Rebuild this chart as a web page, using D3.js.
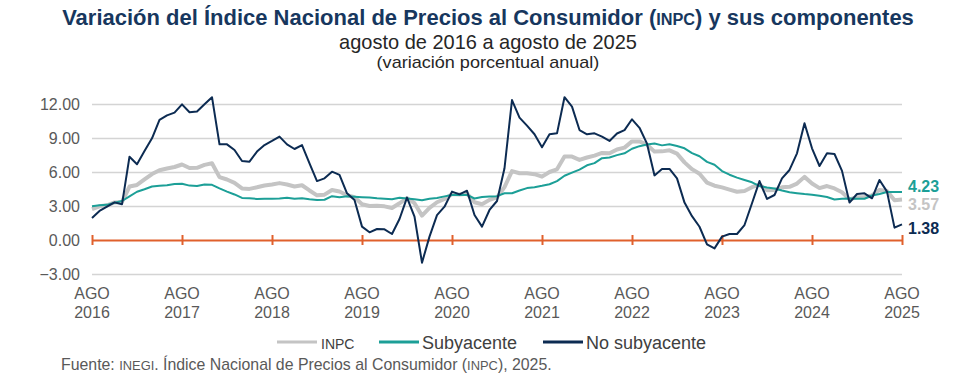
<!DOCTYPE html>
<html>
<head>
<meta charset="utf-8">
<script src="https://cdn.jsdelivr.net/npm/d3@7"></script>
<style>
  html, body { margin: 0; padding: 0; background: #ffffff; }
  svg { display: block; }
  text { font-family: "Liberation Sans", Arial, sans-serif; }
</style>
</head>
<body>
<svg id="chart" width="972" height="389"></svg>
<script>
// ---- Data (monthly, agosto 2016 .. agosto 2025) ----
const startYear = 2016;
const yearTicks = [2016, 2017, 2018, 2019, 2020, 2021, 2022, 2023, 2024, 2025];
const tickMonthLabel = "AGO";
const yTicks = [-3, 0, 3, 6, 9, 12];

const inpc = [
  2.73, 2.97, 3.06, 3.31, 3.36,
  4.72, 4.86, 5.35, 5.82, 6.16, 6.31, 6.44, 6.66, 6.35, 6.37, 6.63, 6.77,
  5.55, 5.34, 5.04, 4.55, 4.51, 4.65, 4.81, 4.90, 5.02, 4.90, 4.72, 4.83,
  4.37, 3.94, 4.00, 4.41, 4.28, 3.95, 3.78, 3.16, 3.00, 3.02, 2.97, 2.83,
  3.24, 3.70, 3.25, 2.15, 2.84, 3.33, 3.62, 4.05, 4.01, 4.09, 3.33, 3.15,
  3.54, 3.76, 4.67, 6.08, 5.89, 5.88, 5.81, 5.59, 6.00, 6.24, 7.37, 7.36,
  7.07, 7.28, 7.45, 7.68, 7.65, 7.99, 8.15, 8.70, 8.70, 8.41, 7.80, 7.82,
  7.91, 7.62, 6.85, 6.25, 5.84, 5.06, 4.79, 4.64, 4.45, 4.26, 4.32, 4.66,
  4.88, 4.40, 4.42, 4.65, 4.69, 4.98, 5.57, 4.99, 4.58, 4.76, 4.55, 4.21,
  3.59, 3.77, 3.80, 3.93, 4.42, 4.32, 3.51, 3.57
];

const subyacente = [
  2.97, 3.07, 3.10, 3.29, 3.44,
  3.84, 4.26, 4.48, 4.72, 4.78, 4.83, 4.94, 4.97, 4.80, 4.77, 4.90, 4.87,
  4.56, 4.27, 4.02, 3.71, 3.69, 3.62, 3.63, 3.63, 3.67, 3.73, 3.63, 3.68,
  3.60, 3.54, 3.55, 3.87, 3.77, 3.85, 3.82, 3.78, 3.75, 3.68, 3.65, 3.59,
  3.73, 3.66, 3.60, 3.50, 3.64, 3.71, 3.85, 3.97, 3.99, 3.98, 3.66, 3.80,
  3.84, 3.87, 4.12, 4.13, 4.37, 4.58, 4.66, 4.78, 4.92, 5.19, 5.67, 5.94,
  6.21, 6.59, 6.78, 7.22, 7.28, 7.49, 7.65, 8.05, 8.28, 8.42, 8.51, 8.35,
  8.45, 8.29, 8.09, 7.67, 7.39, 6.89, 6.64, 6.08, 5.76, 5.50, 5.30, 5.09,
  4.76, 4.64, 4.55, 4.37, 4.21, 4.13, 4.05, 4.00, 3.91, 3.80, 3.58, 3.65,
  3.66, 3.65, 3.64, 3.93, 4.06, 4.24, 4.23, 4.23
];

const noSubyacente = [
  1.95, 2.56, 2.94, 3.32, 3.15,
  7.35, 6.68, 7.85, 8.97, 10.60, 11.00, 11.24, 11.97, 11.27, 11.33, 11.97, 12.60,
  8.44, 8.44, 7.94, 6.97, 6.91, 7.80, 8.38, 8.74, 9.12, 8.44, 8.03, 8.38,
  6.77, 5.20, 5.44, 6.03, 5.74, 4.12, 3.53, 1.18, 0.68, 0.97, 0.94, 0.53,
  1.85, 3.74, 2.06, -2.00, 0.30, 2.20, 2.94, 4.27, 4.03, 4.35, 2.20, 1.18,
  2.65, 3.44, 6.33, 12.35, 10.80, 10.09, 9.33, 8.18, 9.33, 9.41, 12.60, 11.77,
  9.70, 9.33, 9.41, 9.12, 8.74, 9.40, 9.70, 10.65, 9.90, 8.50, 5.70, 6.27,
  6.27, 5.44, 3.30, 2.10, 1.17, -0.38, -0.74, 0.30, 0.53, 0.53, 1.32, 3.24,
  5.20, 3.62, 3.97, 5.44, 6.18, 7.65, 10.30, 8.09, 6.53, 7.65, 7.59, 6.10,
  3.30, 4.06, 4.12, 3.68, 5.30, 4.27, 1.09, 1.38
];

const seriesNames = ["INPC", "Subyacente", "No subyacente"];
const seriesColors = ["#c4c4c4", "#1c9f97", "#0c2b52"];
const endLabelColors = ["#c4c4c4", "#1c9f97", "#0c2b52"];

// ---- Layout ----
const svg = d3.select("#chart");
const plotLeft = 92, plotRight = 902, plotTop = 104, plotBottom = 274;

const x = d3.scaleLinear().domain([0, inpc.length - 1]).range([plotLeft, plotRight]);
const y = d3.scaleLinear().domain([-3, 12]).range([plotBottom, plotTop]);

// ---- Titles ----
function fitText(sel, targetWidth, cx) {
  const node = sel.node();
  const w = node.getComputedTextLength();
  if (w > 0) {
    const s = targetWidth / w;
    sel.attr("transform", `translate(${cx},0) scale(${s},1) translate(${-cx},0)`);
  }
}
const cx = 488;
const t1 = svg.append("text").attr("x", cx).attr("y", 25).attr("text-anchor", "middle")
  .attr("font-size", 23).attr("font-weight", "bold").attr("fill", "#17375e");
t1.append("tspan").text("Variación del Índice Nacional de Precios al Consumidor (");
t1.append("tspan").attr("font-size", 17).text("INPC");
t1.append("tspan").text(") y sus componentes");
fitText(t1, 852, cx);

const t2 = svg.append("text").attr("x", cx).attr("y", 49).attr("text-anchor", "middle")
  .attr("font-size", 20).attr("fill", "#262626").text("agosto de 2016 a agosto de 2025");
fitText(t2, 298, cx);

const t3 = svg.append("text").attr("x", cx).attr("y", 68).attr("text-anchor", "middle")
  .attr("font-size", 16).attr("fill", "#262626").text("(variación porcentual anual)");
fitText(t3, 223, cx);

// ---- Grid ----
const yAxis = d3.axisLeft(y).tickValues(yTicks).tickSize(-(plotRight - plotLeft))
  .tickFormat(d => d3.format(".2f")(d)).tickPadding(12);
const gy = svg.append("g").attr("transform", `translate(${plotLeft},0)`).call(yAxis);
gy.select(".domain").remove();
gy.selectAll(".tick line").attr("stroke", "#d4d4d4").attr("stroke-width", 1.5)
  .attr("opacity", d => d === 0 ? 0 : 1);
gy.selectAll(".tick text").attr("font-size", 16).attr("fill", "#595959")
  .attr("font-family", "'Liberation Sans', Arial, sans-serif");

// ---- Zero axis with year ticks (orange) ----
const zeroAxis = d3.axisBottom(x).tickValues(yearTicks.map((yr, i) => i * 12))
  .tickSize(0).tickFormat("");
const gz = svg.append("g").attr("transform", `translate(0,${y(0)})`).call(zeroAxis);
gz.select(".domain").attr("stroke", "#e0602c").attr("stroke-width", 2);
gz.selectAll(".tick line").attr("y1", -5).attr("y2", 5).attr("stroke", "#e0602c").attr("stroke-width", 2);

// ---- X labels ----
const xl = svg.append("g");
yearTicks.forEach((yr, i) => {
  const px = x(i * 12);
  xl.append("text").attr("x", px).attr("y", 299).attr("text-anchor", "middle")
    .attr("font-size", 16).attr("fill", "#595959").text(tickMonthLabel);
  xl.append("text").attr("x", px).attr("y", 318).attr("text-anchor", "middle")
    .attr("font-size", 16).attr("fill", "#595959").text(yr);
});

// ---- Lines ----
const line = d3.line().x((d, i) => x(i)).y(d => y(d));
const allSeries = [inpc, subyacente, noSubyacente];
const widths = [4, 2, 2];
allSeries.forEach((s, k) => {
  svg.append("path").datum(s).attr("d", line).attr("fill", "none")
    .attr("stroke", seriesColors[k]).attr("stroke-width", widths[k])
    .attr("stroke-linejoin", "round");
});

// ---- End labels ----
const endOffsets = [210, 192, 234];
allSeries.forEach((s, k) => {
  svg.append("text").attr("x", 908).attr("y", endOffsets[k])
    .attr("font-size", 16).attr("font-weight", "bold").attr("fill", endLabelColors[k])
    .text(d3.format(".2f")(s[s.length - 1]));
});

// ---- Legend ----
const legend = svg.append("g");
const legendItems = [
  { lx: 277, lw: 40, tx: 321, fs: 14 },
  { lx: 379, lw: 40, tx: 422, fs: 18 },
  { lx: 543, lw: 40, tx: 586, fs: 18 }
];
legendItems.forEach((it, k) => {
  legend.append("line").attr("x1", it.lx).attr("x2", it.lx + it.lw)
    .attr("y1", 342).attr("y2", 342).attr("stroke", seriesColors[k]).attr("stroke-width", 3);
  legend.append("text").attr("x", it.tx).attr("y", 349)
    .attr("font-size", it.fs).attr("fill", "#404040").text(seriesNames[k]);
});

// ---- Source ----
const src = svg.append("text").attr("x", 61).attr("y", 370).attr("font-size", 16).attr("fill", "#595959");
src.append("tspan").text("Fuente: ");
src.append("tspan").attr("font-size", 13).text("INEGI");
src.append("tspan").text(". Índice Nacional de Precios al Consumidor (");
src.append("tspan").attr("font-size", 13).text("INPC");
src.append("tspan").text("), 2025.");
{
  const w = src.node().getComputedTextLength();
  if (w > 0) {
    const s = 491 / w;
    src.attr("transform", `translate(61,0) scale(${s},1) translate(-61,0)`);
  }
}
</script>
</body>
</html>
